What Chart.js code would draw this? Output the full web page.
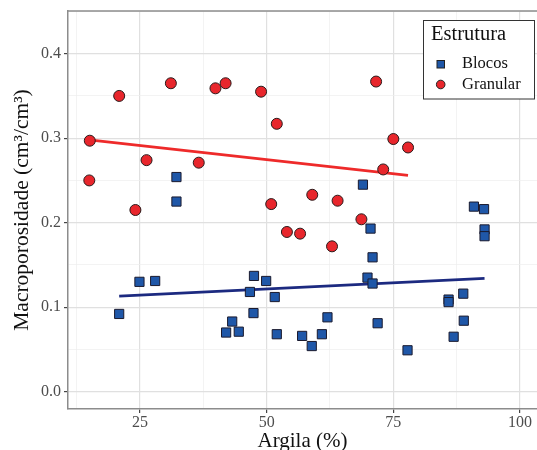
<!DOCTYPE html>
<html>
<head>
<meta charset="utf-8">
<script src="https://cdn.jsdelivr.net/npm/chart.js@4.4.0/dist/chart.umd.min.js"></script>
<style>
  body { margin: 0; background: #fff; }
  canvas { display: block; }
</style>
</head>
<body>
<canvas id="macroChart" width="537" height="450"></canvas>
<script>
// Blocos (blue squares)
const argilaBlocos = [20.9, 24.9, 28.0, 32.2, 32.2, 42.0, 43.2, 44.5, 46.7, 47.4, 47.5, 49.9, 51.6, 52.0, 57.0, 58.9, 60.9, 62.0, 69.0, 69.9, 70.5, 70.9, 70.9, 71.9, 77.8, 85.9, 85.9, 86.9, 88.8, 88.9, 90.9, 92.9, 93.0, 93.0];
const macroBlocos = [0.092, 0.130, 0.131, 0.254, 0.225, 0.070, 0.083, 0.071, 0.118, 0.093, 0.137, 0.131, 0.112, 0.068, 0.066, 0.054, 0.068, 0.088, 0.245, 0.135, 0.193, 0.159, 0.128, 0.081, 0.049, 0.109, 0.106, 0.065, 0.116, 0.084, 0.219, 0.216, 0.192, 0.184];

// Granular (red circles)
const argilaGranular = [15.1, 15.0, 20.9, 24.1, 26.3, 31.1, 36.6, 39.9, 41.9, 48.9, 50.9, 52.0, 54.0, 56.6, 59.0, 62.9, 64.0, 68.7, 71.6, 73.0, 75.0, 77.9];
const macroGranular = [0.297, 0.250, 0.350, 0.215, 0.274, 0.365, 0.271, 0.359, 0.365, 0.355, 0.222, 0.317, 0.189, 0.187, 0.233, 0.172, 0.226, 0.204, 0.367, 0.263, 0.299, 0.289];

// fitted lines (end points)
const trendBlocosX = [20.9, 93.0];
const trendBlocosY = [0.113, 0.134];
const trendGranularX = [15.0, 77.9];
const trendGranularY = [0.298, 0.256];

// axis ticks (major + minor gridlines)
const xTicks = [12.5, 25, 37.5, 50, 62.5, 75, 87.5, 100];
const xLabels = [25, 50, 75, 100];
const yTicks = [0, 0.05, 0.1, 0.15, 0.2, 0.25, 0.3, 0.35, 0.4, 0.45];
const yLabels = [0, 0.1, 0.2, 0.3, 0.4];

const seriesNames = ['Blocos', 'Granular'];
const legendTitle = 'Estrutura';

const SERIF = "'Liberation Serif', 'Times New Roman', serif";
const BLUE = '#1f57a8';
const RED = '#e8262c';

const toPoints = (xs, ys) => xs.map((x, i) => ({ x: x, y: ys[i] }));
const isLabel = (list, v) => list.some(l => Math.abs(l - v) < 1e-9);

const panelBorder = {
  id: 'panelBorder',
  afterDraw(chart) {
    const { ctx, chartArea } = chart;
    ctx.save();
    ctx.strokeStyle = '#8c8c8c';
    ctx.lineWidth = 1.5;
    ctx.beginPath();
    ctx.moveTo(chartArea.left, chartArea.top);
    ctx.lineTo(chartArea.right, chartArea.top);
    ctx.stroke();
    ctx.restore();
  }
};

const boxLegend = {
  id: 'boxLegend',
  afterDraw(chart) {
    const ctx = chart.ctx;
    ctx.save();
    ctx.fillStyle = '#fff';
    ctx.strokeStyle = '#333';
    ctx.lineWidth = 1;
    ctx.fillRect(423.5, 20.5, 111, 78.5);
    ctx.strokeRect(423.5, 20.5, 111, 78.5);

    ctx.fillStyle = '#111';
    ctx.textBaseline = 'middle';
    ctx.font = '20.5px ' + SERIF;
    ctx.fillText(legendTitle, 431, 35);

    ctx.font = '16.5px ' + SERIF;
    ctx.fillText(seriesNames[0], 462, 64);
    ctx.fillText(seriesNames[1], 462, 84.5);

    ctx.lineWidth = 1;
    ctx.strokeStyle = '#222';
    ctx.fillStyle = BLUE;
    ctx.fillRect(437, 60.5, 7.5, 7.5);
    ctx.strokeRect(437, 60.5, 7.5, 7.5);
    ctx.fillStyle = RED;
    ctx.beginPath();
    ctx.arc(440.7, 84.5, 4.3, 0, Math.PI * 2);
    ctx.fill();
    ctx.stroke();
    ctx.restore();
  }
};

new Chart(document.getElementById('macroChart'), {
  type: 'scatter',
  data: {
    datasets: [
      {
        label: seriesNames[0],
        data: toPoints(argilaBlocos, macroBlocos),
        pointStyle: 'rect',
        pointRadius: 6.5,
        backgroundColor: BLUE,
        borderColor: '#1a1a2e',
        borderWidth: 1
      },
      {
        label: seriesNames[1],
        data: toPoints(argilaGranular, macroGranular),
        pointStyle: 'circle',
        pointRadius: 5.5,
        backgroundColor: RED,
        borderColor: '#2a1a1a',
        borderWidth: 1
      },
      {
        type: 'line',
        data: toPoints(trendBlocosX, trendBlocosY),
        borderColor: '#1c2a80',
        borderWidth: 2.8,
        pointRadius: 0
      },
      {
        type: 'line',
        data: toPoints(trendGranularX, trendGranularY),
        borderColor: '#ee2a2a',
        borderWidth: 2.8,
        pointRadius: 0
      }
    ]
  },
  options: {
    responsive: false,
    animation: false,
    layout: { autoPadding: false, padding: { top: 11, left: 0, right: 0, bottom: 0 } },
    plugins: {
      legend: { display: false },
      tooltip: { enabled: false }
    },
    scales: {
      x: {
        type: 'linear',
        min: 10.8,
        max: 103.35,
        afterFit: s => { s.height = 41; s.paddingLeft = 0; s.paddingRight = 0; },
        afterBuildTicks: s => { s.ticks = xTicks.map(v => ({ value: v })); },
        ticks: {
          color: '#4d4d4d',
          font: { family: SERIF, size: 16 },
          padding: 0,
          maxRotation: 0,
          autoSkip: false,
          callback: v => isLabel(xLabels, v) ? String(v) : ''
        },
        grid: {
          color: c => isLabel(xLabels, c.tick.value) ? '#e0e0e0' : '#eeeeee',
          lineWidth: c => isLabel(xLabels, c.tick.value) ? 1.2 : 0.7,
          tickLength: 4,
          tickColor: c => isLabel(xLabels, c.tick.value) ? '#444' : 'rgba(0,0,0,0)'
        },
        border: { color: '#8c8c8c', width: 1.5 },
        title: {
          display: true,
          text: 'Argila (%)',
          color: '#111',
          font: { family: SERIF, size: 21, lineHeight: 0.8 },
          padding: 0
        }
      },
      y: {
        type: 'linear',
        min: -0.0205,
        max: 0.4505,
        afterFit: s => { s.width = 68; s.paddingTop = 0; s.paddingBottom = 0; },
        afterBuildTicks: s => { s.ticks = yTicks.map(v => ({ value: v })); },
        ticks: {
          color: '#4d4d4d',
          font: { family: SERIF, size: 16 },
          padding: 3,
          autoSkip: false,
          callback: v => isLabel(yLabels, v) ? v.toFixed(1) : ''
        },
        grid: {
          color: c => isLabel(yLabels, c.tick.value) ? '#e0e0e0' : '#eeeeee',
          lineWidth: c => isLabel(yLabels, c.tick.value) ? 1.2 : 0.7,
          tickLength: 4,
          tickColor: c => isLabel(yLabels, c.tick.value) ? '#444' : 'rgba(0,0,0,0)'
        },
        border: { color: '#8c8c8c', width: 1.5 },
        title: {
          display: true,
          text: 'Macroporosidade (cm³/cm³)',
          color: '#111',
          font: { family: SERIF, size: 21.5, lineHeight: 1.2 },
          padding: { top: 9, bottom: 0 }
        }
      }
    }
  },
  plugins: [panelBorder, boxLegend]
});
</script>
</body>
</html>
